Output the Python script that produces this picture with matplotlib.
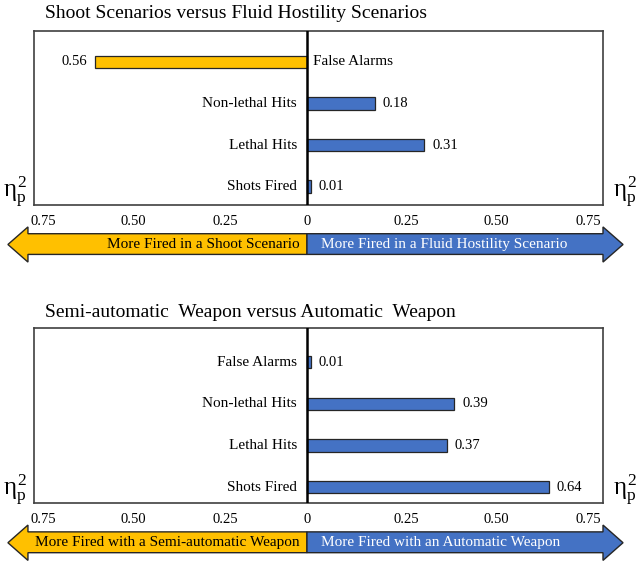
import matplotlib
matplotlib.use("Agg")
import matplotlib.pyplot as plt
import matplotlib.transforms as mtransforms
from matplotlib.patches import Polygon

plt.rcParams["font.family"] = "Liberation Serif"
plt.rcParams["mathtext.fontset"] = "custom"
plt.rcParams["mathtext.rm"] = "Liberation Serif"
plt.rcParams["mathtext.it"] = "Liberation Serif"

# Data
categories = ["False Alarms", "Non-lethal Hits", "Lethal Hits", "Shots Fired"]
shoot_vs_fluid = [-0.56, 0.18, 0.31, 0.01]   # negative = shoot scenario side
semi_vs_auto = [0.01, 0.39, 0.37, 0.64]
tick_labels = ["0.75", "0.50", "0.25", "0", "0.25", "0.50", "0.75"]

titles = ["Shoot Scenarios versus Fluid Hostility Scenarios",
          "Semi-automatic  Weapon versus Automatic  Weapon"]
left_texts = ["More Fired in a Shoot Scenario", "More Fired with a Semi-automatic Weapon"]
right_texts = ["More Fired in a Fluid Hostility Scenario", "More Fired with an Automatic Weapon"]

YELLOW = "#FFC000"
BLUE = "#4472C4"
EDGE = "#262626"

W, H = 642, 566
fig = plt.figure(figsize=(W / 100, H / 100), dpi=100)

# layout (pixels): box left/right, top/bottom
boxes = [(34, 603, 31, 205), (34, 603, 328, 503)]
ylims = [(3.44, -0.74), (3.38, -0.82)]
title_base = [18, 317]
tick_pos = [-0.697, -0.458, -0.217, 0, 0.262, 0.5, 0.743]


def draw_arrow(ax, left_text, right_text):
    trans = mtransforms.blended_transform_factory(ax.transData, ax.transAxes)
    yht, ybt, yc, ybb, yhb = -0.126, -0.165, -0.227, -0.284, -0.328
    xl_tip, xl_base = -0.791, -0.738
    xr_tip, xr_base = 0.836, 0.783
    left = [(xl_tip, yc), (xl_base, yht), (xl_base, ybt), (0, ybt),
            (0, ybb), (xl_base, ybb), (xl_base, yhb)]
    right = [(xr_tip, yc), (xr_base, yht), (xr_base, ybt), (0, ybt),
             (0, ybb), (xr_base, ybb), (xr_base, yhb)]
    ax.add_patch(Polygon(left, closed=True, facecolor=YELLOW, edgecolor=EDGE,
                         lw=1.0, transform=trans, clip_on=False))
    ax.add_patch(Polygon(right, closed=True, facecolor=BLUE, edgecolor=EDGE,
                         lw=1.0, transform=trans, clip_on=False))
    ax.text(-0.019, yc, left_text, ha="right", va="center", fontsize=11,
            color="black", transform=trans)
    ax.text(0.037, yc, right_text, ha="left", va="center", fontsize=11,
            color="white", transform=trans)


for i, values in enumerate([shoot_vs_fluid, semi_vs_auto]):
    x0, x1, y0, y1 = boxes[i]
    ax = fig.add_axes([x0 / W, 1 - y1 / H, (x1 - x0) / W, (y1 - y0) / H])
    ypos = list(range(len(categories)))
    colors = [YELLOW if v < 0 else BLUE for v in values]
    ax.barh(ypos, values, height=0.30, color=colors, edgecolor=EDGE, linewidth=0.9, zorder=2)
    ax.axvline(0, color="black", lw=1.8, zorder=3)
    ax.set_xlim(-0.722, 0.783)
    ax.set_ylim(*ylims[i])
    ax.set_yticks([])
    ax.set_xticks(tick_pos, tick_labels)
    ax.tick_params(axis="x", length=0, pad=7, labelsize=10.5)
    for s in ax.spines.values():
        s.set_color("#404040")
        s.set_linewidth(1.2)

    for yi, (cat, v) in enumerate(zip(categories, values)):
        if v >= 0:
            ax.text(-0.027, yi, cat, ha="right", va="center", fontsize=11)
            ax.text(v + 0.021, yi, f"{v:.2f}", ha="left", va="center", fontsize=10.5)
        else:
            ax.text(0.016, yi, cat, ha="left", va="center", fontsize=11)
            ax.text(v - 0.021, yi, f"{abs(v):.2f}", ha="right", va="center", fontsize=10.5)

    draw_arrow(ax, left_texts[i], right_texts[i])

    fig.text(45 / W, 1 - title_base[i] / H, titles[i], ha="left", va="baseline", fontsize=14)
    ey = (y1 - 13) / H
    fig.text(3 / W, 1 - ey, r"$\eta_p^2$", ha="left", va="center", fontsize=18)
    fig.text(613 / W, 1 - ey, r"$\eta_p^2$", ha="left", va="center", fontsize=18)

fig.savefig("out.png", dpi=100)
